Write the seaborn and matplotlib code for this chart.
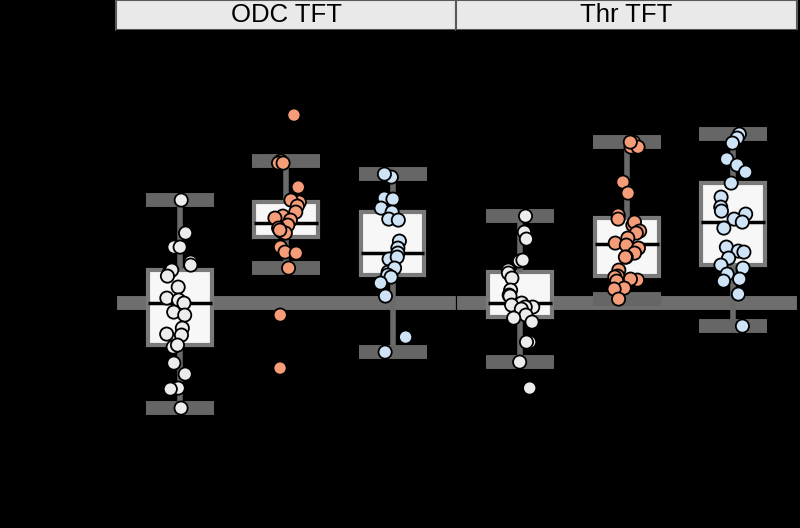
import numpy as np
import pandas as pd
import matplotlib
matplotlib.use("Agg")
import matplotlib.pyplot as plt
from matplotlib.patches import Rectangle
import seaborn as sns

# values (relative change, control median = 0)
panels = ["ODC TFT", "Thr TFT"]
groups = ["Control", "Condition 1", "Condition 2"]
colors = ["#ececec", "#f59d78", "#cfe3f7"]

odc_control = [1.03, 0.70, 0.56, 0.56, 0.41, 0.38, 0.31, 0.33, 0.27, 0.16, 0.05, 0.03, 0.00,
               -0.09, -0.12, -0.25, -0.31, -0.32, -0.44, -0.42, -0.60, -0.71, -0.85, -0.86, -1.05]
odc_cond1 = [1.88, 1.42, 1.40, 1.40, 1.16, 1.01, 1.03, 0.97, 0.91, 0.87, 0.85, 0.83, 0.78,
             0.71, 0.75, 0.70, 0.70, 0.73, 0.56, 0.51, 0.50, 0.35, -0.12, -0.65]
odc_cond2 = [1.26, 1.29, 1.05, 1.04, 0.95, 0.91, 0.84, 0.83, 0.62, 0.55, 0.50, 0.44, 0.46,
             0.31, 0.35, 0.28, 0.26, 0.20, 0.07, -0.34, -0.49]
thr_control = [0.87, 0.71, 0.64, 0.42, 0.43, 0.33, 0.30, 0.25, 0.13, 0.08, 0.07, 0.00, -0.02,
               -0.04, -0.04, -0.06, -0.12, -0.15, -0.19, -0.39, -0.39, -0.59, -0.85]
thr_cond1 = [1.61, 1.56, 1.56, 1.61, 1.21, 1.10, 0.88, 0.84, 0.78, 0.81, 0.72, 0.70, 0.65, 0.60,
             0.58, 0.55, 0.50, 0.46, 0.46, 0.33, 0.27, 0.26, 0.23, 0.24, 0.22, 0.15, 0.14, 0.04]
thr_cond2 = [1.69, 1.65, 1.60, 1.44, 1.38, 1.31, 1.20, 1.06, 0.96, 0.92, 0.89, 0.84, 0.81,
             0.75, 0.56, 0.52, 0.51, 0.45, 0.38, 0.35, 0.29, 0.24, 0.22, 0.09, -0.23]

series = {
    "ODC TFT": [odc_control, odc_cond1, odc_cond2],
    "Thr TFT": [thr_control, thr_cond1, thr_cond2],
}
rows = []
for p in panels:
    for g, vals in zip(groups, series[p]):
        rows += [(p, g, v) for v in vals]
df = pd.DataFrame(rows, columns=["panel", "group", "value"])

np.random.seed(3)
sns.set_style("ticks")
plt.rcParams["font.family"] = ["Liberation Sans", "DejaVu Sans"]

# the reference has a transparent background shown as black, black text on it
fig, axes = plt.subplots(1, 2, figsize=(8, 5.28), dpi=100, sharey=True, facecolor="black")
fig.subplots_adjust(left=0.145, right=0.996, top=0.943, bottom=0.14, wspace=0)

for ax, p in zip(axes, panels):
    sub = df[df["panel"] == p]
    ax.set_facecolor("black")
    ax.axhline(0, color="#6e6e6e", lw=10, zorder=0, solid_capstyle="butt")
    sns.boxplot(data=sub, x="group", y="value", order=groups, ax=ax, width=0.6,
                color="#f7f7f7", linecolor="#7a7a7a", linewidth=3, showfliers=False,
                capwidths=0.64,
                capprops={"linewidth": 10, "color": "#666666", "solid_capstyle": "butt"},
                whiskerprops={"linewidth": 4, "color": "#6a6a6a", "solid_capstyle": "butt"},
                medianprops={"color": "black", "linewidth": 2.5})
    sns.stripplot(data=sub, x="group", y="value", order=groups, hue="group",
                  hue_order=groups, palette=colors, legend=False, ax=ax, jitter=0.13,
                  size=9.5, linewidth=1.3, edgecolor="black", zorder=3)
    ax.set_xlim(-0.6, 2.6)
    ax.set_ylim(-1.51, 2.73)
    ax.set_xlabel("")
    ax.tick_params(colors="black", labelsize=12)
    for s in ax.spines.values():
        s.set_color("black")
    # facet strip
    ax.add_patch(Rectangle((0, 1), 1, 30 / (0.803 * 528), transform=ax.transAxes,
                           facecolor="#e9e9e9", edgecolor="#5a5a5a", lw=1.5, clip_on=False))
    ax.text(0.5, 1 + 15 / (0.803 * 528), p, transform=ax.transAxes, ha="center",
            va="center", fontsize=18.5, color="black")

axes[0].set_ylabel("Relative change", fontsize=14, color="black")
axes[1].set_ylabel("")
axes[1].tick_params(left=False)

fig.savefig("out.png", dpi=100, facecolor="black")
